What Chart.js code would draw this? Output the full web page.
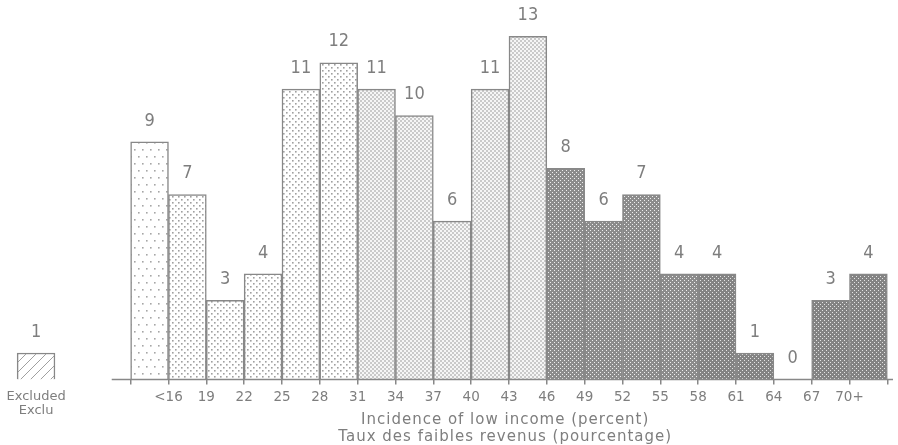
<!DOCTYPE html>
<html><head><meta charset="utf-8">
<script src="https://cdn.jsdelivr.net/npm/chart.js@4.4.1/dist/chart.umd.min.js"></script>
<style>html,body{margin:0;padding:0;background:#fff;}#wrap{width:898px;height:445px;}</style>
</head><body><div id="wrap"><canvas id="c" width="898" height="445"></canvas></div>
<script>
// ---- data ----
const values = [9, 7, 3, 4, 11, 12, 11, 10, 6, 11, 13, 8, 6, 7, 4, 4, 1, 0, 3, 4];
const edgeLabels = ['', '<16', '19', '22', '25', '28', '31', '34', '37', '40', '43', '46', '49', '52', '55', '58', '61', '64', '67', '70+', ''];
const shadeGroup = [0, 1, 1, 1, 1, 1, 2, 2, 2, 2, 2, 3, 3, 3, 3, 4, 4, 4, 4, 4];
const excludedValue = 1;
const excludedLabel = ['Excluded', 'Exclu'];
const axisTitle = ['Incidence of low income (percent)', 'Taux des faibles revenus (pourcentage)'];

const EXCL_POS = -2.5;
const GRAY = '#888888';
const TXT = '#7e7e7e';

const canvas = document.getElementById('c');
const ctx = canvas.getContext('2d');

function makePattern(w, h, bg, draw) {
  const c = document.createElement('canvas');
  c.width = w; c.height = h;
  const g = c.getContext('2d');
  g.fillStyle = bg; g.fillRect(0, 0, w, h);
  draw(g);
  return ctx.createPattern(c, 'repeat');
}
const patterns = [
  makePattern(8, 14, '#ffffff', g => { g.fillStyle = '#a6a6a6'; g.fillRect(2, 2, 1.6, 1.6); g.fillRect(6, 9, 1.6, 1.6); }),
  makePattern(6, 6, '#ffffff', g => { g.fillStyle = '#a0a0a0'; g.fillRect(1, 1, 1.6, 1.6); g.fillRect(4, 4, 1.6, 1.6); }),
  makePattern(4, 4, '#f6f6f6', g => { g.fillStyle = '#cacaca'; g.fillRect(0, 0, 2, 2); g.fillRect(2, 2, 2, 2); }),
  makePattern(4, 4, '#8c8c8c', g => { g.fillStyle = '#f0f0f0'; g.fillRect(0, 0, 1, 1); g.fillRect(2, 2, 1, 1); }),
  makePattern(4, 4, '#838383', g => { g.fillStyle = '#e4e4e4'; g.fillRect(0, 0, 1, 1); g.fillRect(2, 2, 1, 1); })
];
const hatch = makePattern(10, 10, '#ffffff', g => {
  g.strokeStyle = '#a0a0a0'; g.lineWidth = 1;
  g.beginPath(); g.moveTo(-1, 11); g.lineTo(11, -1); g.stroke();
});

const points = [{x: EXCL_POS, y: excludedValue}].concat(values.map((v, i) => ({x: i + 0.5, y: v})));
const fills = [hatch].concat(shadeGroup.map(g => patterns[g]));

const extras = {
  id: 'extras',
  afterDatasetsDraw(chart) {
    const c = chart.ctx;
    const xs = chart.scales.x;
    const base = chart.scales.y.getPixelForValue(0);
    // axis line
    c.save();
    c.strokeStyle = GRAY; c.lineWidth = 1.5;
    c.beginPath();
    c.moveTo(xs.getPixelForValue(-0.5), base);
    c.lineTo(chart.chartArea.right, base);
    c.stroke();
    // value labels
    c.fillStyle = TXT;
    c.font = '18px "Liberation Sans Narrow", "DejaVu Sans Condensed", sans-serif';
    c.textAlign = 'center'; c.textBaseline = 'middle';
    chart.getDatasetMeta(0).data.forEach((bar, i) => {
      c.fillText(String(points[i].y), bar.x, bar.y - 21);
    });
    // axis title
    c.font = '15px "DejaVu Sans", sans-serif';
    if ('letterSpacing' in c) c.letterSpacing = '1px';
    const cx = xs.getPixelForValue(9.9);
    c.fillText(axisTitle[0], cx, 420);
    c.fillText(axisTitle[1], cx, 437);
    c.restore();
  }
};

new Chart(canvas, {
  type: 'bar',
  data: {
    datasets: [{
      data: points,
      backgroundColor: fills,
      borderColor: GRAY,
      borderWidth: 1.5,
      barPercentage: 1,
      categoryPercentage: 1
    }]
  },
  options: {
    responsive: false,
    animation: false,
    devicePixelRatio: 1,
    layout: {padding: {left: 2, right: 5, top: 10, bottom: 22}},
    plugins: {legend: {display: false}, tooltip: {enabled: false}},
    scales: {
      x: {
        type: 'linear', min: -3.4, max: 20.15, offset: false,
        afterBuildTicks: s => { s.ticks = [{value: EXCL_POS}].concat(edgeLabels.map((_, i) => ({value: i}))); },
        ticks: {
          autoSkip: false, maxRotation: 0, minRotation: 0, padding: 5, color: TXT,
          font: c => (c.tick && c.tick.value === EXCL_POS) ? {family: 'DejaVu Sans', size: 13, lineHeight: 1.1} : {family: 'DejaVu Sans', size: 13.5},
          callback: v => v === EXCL_POS ? excludedLabel : edgeLabels[v]
        },
        grid: {
          display: true, offset: false, drawOnChartArea: false, drawTicks: true, tickLength: 5, lineWidth: 1.5,
          color: c => (c.tick && c.tick.value === EXCL_POS) ? 'rgba(0,0,0,0)' : GRAY
        },
        border: {display: false}
      },
      y: {display: false, min: 0, max: 14}
    }
  },
  plugins: [extras]
});
</script>
</body></html>
